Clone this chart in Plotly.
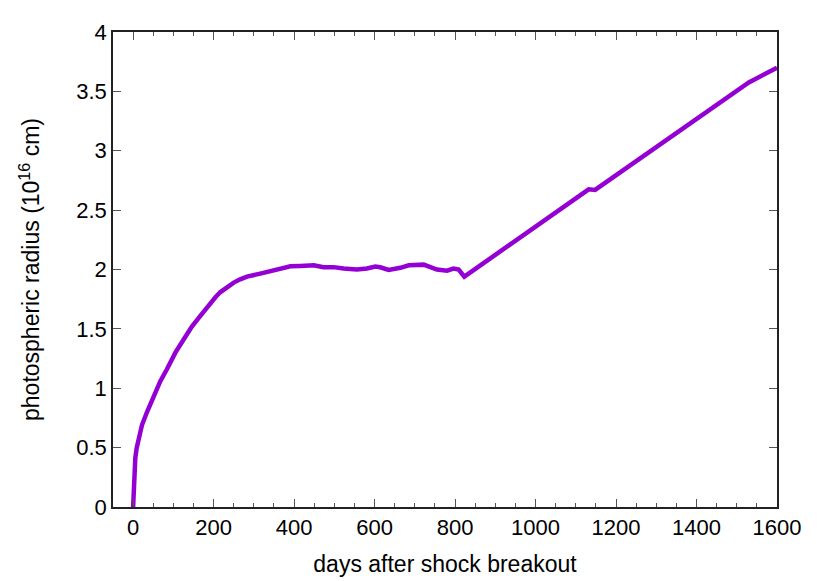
import plotly.graph_objects as go

days = [0, 1, 3, 5.5, 9, 13.7, 22, 34.5, 51, 67.6, 84, 105, 125.5, 146, 167, 192, 205, 217, 230,
        240, 250, 266, 283, 316, 349, 368, 382, 391, 415, 424, 449, 473, 498, 523, 556, 581, 602,
        614, 635, 664, 685, 722, 755, 780, 796, 809, 823, 1132, 1148, 1530, 1570, 1600]
radius = [0, 0.15, 0.3, 0.416, 0.5, 0.58, 0.69, 0.80, 0.94, 1.06, 1.16, 1.30, 1.41, 1.52, 1.61,
          1.72, 1.768, 1.81, 1.845, 1.87, 1.89, 1.917, 1.94, 1.965, 1.99, 2.008, 2.02, 2.027,
          2.03, 2.033, 2.036, 2.019, 2.02, 2.008, 2.0, 2.008, 2.025, 2.019, 1.997, 2.014, 2.036,
          2.041, 2.0, 1.99, 2.008, 2.0, 1.94, 2.675, 2.67, 3.575, 3.65, 3.70]

x_ticks = [0, 200, 400, 600, 800, 1000, 1200, 1400, 1600]
y_ticks = [0, 0.5, 1, 1.5, 2, 2.5, 3, 3.5, 4]

font = "Liberation Sans, Arial, Helvetica, sans-serif"

fig = go.Figure()
fig.add_trace(go.Scatter(x=days, y=radius, mode="lines",
                         line=dict(color="#9400D3", width=4.5), showlegend=False))

axis_common = dict(
    showgrid=False, zeroline=False, showline=True, linecolor="#222", linewidth=1.5,
    mirror="ticks", ticks="inside", ticklen=8, tickwidth=1, tickcolor="#555",
    tickfont=dict(family=font, size=22, color="black"),
    title_font=dict(family=font, size=23, color="black"),
)

fig.update_xaxes(range=[-50, 1600], tickvals=x_ticks, ticktext=[str(v) for v in x_ticks],
                 title_text="days after shock breakout", title_standoff=17,
                 minor=dict(ticks="inside", ticklen=4, dtick=50, tick0=0, tickcolor="#555"),
                 **axis_common)
fig.update_yaxes(range=[0, 4], tickvals=y_ticks, ticktext=[f"{v:g}" for v in y_ticks],
                 title_text="photospheric radius (10<sup>16</sup> cm)", title_standoff=30,
                 **axis_common)

fig.update_layout(
    width=830, height=581,
    margin=dict(l=105, r=61, t=15, b=82),
    paper_bgcolor="white", plot_bgcolor="white",
    font=dict(family=font, size=22, color="black"),
)

fig.write_html("out.html")
